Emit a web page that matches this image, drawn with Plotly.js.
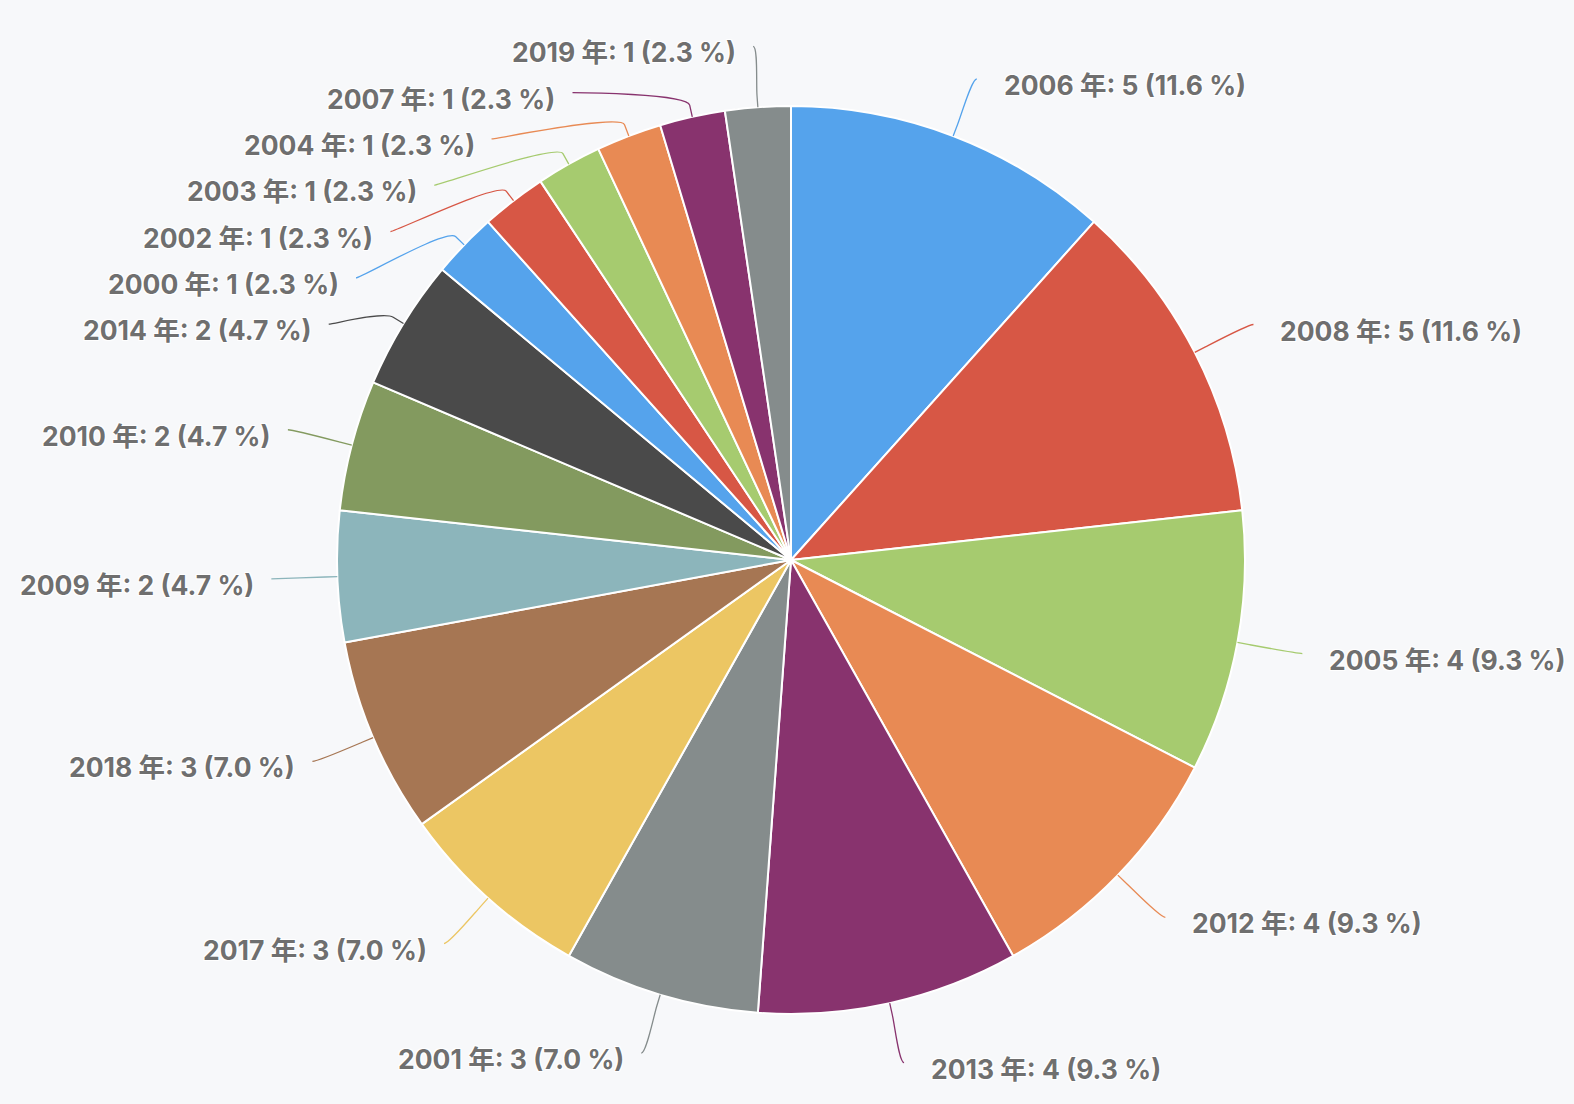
<!DOCTYPE html>
<html>
<head>
<meta charset="utf-8">
<script src="https://cdn.plot.ly/plotly-3.0.1.min.js"></script>
<style>html,body{margin:0;padding:0;background:#f7f8fa;}#chart{width:1574px;height:1104px;}</style>
</head>
<body>
<div id="chart"></div>
<script>
const years = ['2006 年','2008 年','2005 年','2012 年','2013 年','2001 年','2017 年','2018 年','2009 年','2010 年','2014 年','2000 年','2002 年','2003 年','2004 年','2007 年','2019 年'];
const counts = [5,5,4,4,4,3,3,3,2,2,2,1,1,1,1,1,1];
const sliceColors = ['#55a3ec','#d75745','#a6cb6f','#e88a54','#88336e','#858c8c','#ecc663','#a67653','#8cb5bb','#839a5f','#4a4a4a','#55a3ec','#d75745','#a6cb6f','#e88a54','#88336e','#858c8c'];

const W = 1574, H = 1104;
const cx = 791, cy = 560, R = 454;
const labelRx = 520, labelRy = 515, spacing = 46.3, breakOff = 12, gapL = 15, gapR = 25;
const px = x => x / W;
const py = y => 1 - y / H;

const total = counts.reduce((a, b) => a + b, 0);
let cum = 0;
const items = counts.map((v, i) => {
  const mid = (cum + v / 2) / total * 2 * Math.PI; cum += v;
  const s = Math.sin(mid), c = Math.cos(mid);
  return {
    i, v, left: s < 0, s, c,
    y: cy - labelRy * c,
    touch: [cx + R * s, cy - R * c],
    brk: [cx + (R + breakOff) * s, cy - (R + breakOff) * c],
    text: `${years[i]}: ${v} (${(v / total * 100).toFixed(1)} %)`
  };
});
[true, false].forEach(side => {
  const grp = items.filter(d => d.left === side).sort((a, b) => a.y - b.y);
  for (let k = 1; k < grp.length; k++) {
    if (grp[k].y < grp[k - 1].y + spacing) grp[k].y = grp[k - 1].y + spacing;
  }
});
const shapes = [], annotations = [];
items.forEach(d => {
  const dy = d.y - cy;
  const ratio = Math.max(-1, Math.min(1, dy / labelRy));
  const dx = Math.cos(Math.asin(ratio)) * labelRx;
  const lx = d.left ? cx - dx : cx + dx;
  const ly = d.y;
  const c1x = lx + (d.left ? 5 : -5);
  const c2x = 2 * d.brk[0] - d.touch[0], c2y = 2 * d.brk[1] - d.touch[1];
  const path = `M ${px(lx)},${py(ly)} C ${px(c1x)},${py(ly)} ${px(c2x)},${py(c2y)} ${px(d.brk[0])},${py(d.brk[1])} L ${px(d.touch[0])},${py(d.touch[1])}`;
  shapes.push({type: 'path', xref: 'paper', yref: 'paper', path, line: {color: sliceColors[d.i], width: 1.3}, layer: 'above'});
  annotations.push({
    xref: 'paper', yref: 'paper', showarrow: false,
    x: px(d.left ? lx - gapL : lx + gapR), y: py(ly + 6),
    xanchor: d.left ? 'right' : 'left', yanchor: 'middle',
    text: d.text,
    font: {family: 'Inter, Noto Sans CJK JP, sans-serif', size: 26.5, weight: 700, color: '#6f6f6f',
           shadow: '1px 1px 1px #ffffff, -1px -1px 1px #ffffff, 1px -1px 1px #ffffff, -1px 1px 1px #ffffff'}
  });
});

const data = [{
  type: 'pie',
  labels: years, values: counts,
  sort: false, direction: 'clockwise', rotation: 0,
  textinfo: 'none', hoverinfo: 'label+value+percent',
  marker: {colors: sliceColors, line: {color: '#ffffff', width: 2}},
  domain: {x: [px(cx - R), px(cx + R)], y: [py(cy + R), py(cy - R)]},
  showlegend: false
}];
const layout = {
  width: W, height: H,
  margin: {l: 0, r: 0, t: 0, b: 0},
  paper_bgcolor: '#f7f8fa', plot_bgcolor: '#f7f8fa',
  showlegend: false,
  shapes, annotations
};
Plotly.newPlot('chart', data, layout, {displayModeBar: false, staticPlot: true});
</script>
</body>
</html>
